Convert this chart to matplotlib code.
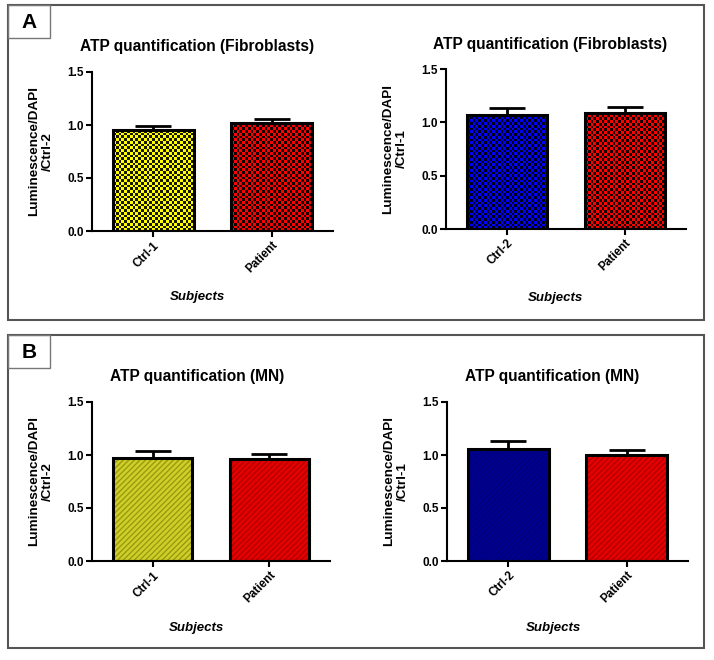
import numpy as np
import matplotlib
matplotlib.use("Agg")
import matplotlib.pyplot as plt
from matplotlib.patches import Rectangle

plt.rcParams['font.family'] = ['Liberation Sans', 'DejaVu Sans']

# data
fib_left_labels = ['Ctrl-1', 'Patient']
fib_left_means = [0.95, 1.02]
fib_left_err = [0.04, 0.04]

fib_right_labels = ['Ctrl-2', 'Patient']
fib_right_means = [1.07, 1.09]
fib_right_err = [0.06, 0.05]

mn_left_labels = ['Ctrl-1', 'Patient']
mn_left_means = [0.97, 0.96]
mn_left_err = [0.07, 0.045]

mn_right_labels = ['Ctrl-2', 'Patient']
mn_right_means = [1.06, 1.00]
mn_right_err = [0.075, 0.05]

W, H = 714, 660
fig = plt.figure(figsize=(W / 100, H / 100), dpi=100)


def px_axes(x0, x1, ytop, ybot):
    return fig.add_axes([x0 / W, 1 - ybot / H, (x1 - x0) / W, (ybot - ytop) / H])


def checker(ax, bar, color):
    # checkerboard fill clipped to the bar
    x0, y0 = bar.get_x(), bar.get_y()
    x1, y1 = x0 + bar.get_width(), y0 + bar.get_height()
    p0 = ax.transData.transform((x0, y0))
    p1 = ax.transData.transform((x1, y1))
    nx = max(1, int(abs(p1[0] - p0[0]) / 2.7))
    ny = max(1, int(abs(p1[1] - p0[1]) / 2.7))
    c = np.array(matplotlib.colors.to_rgb(color))
    dark = c * 0.1
    jj, ii = np.meshgrid(np.arange(nx), np.arange(ny))
    mask = ((ii + jj) % 2)[..., None]
    img = np.where(mask == 1, dark, c)
    im = ax.imshow(img, extent=(x0, x1, y0, y1), aspect='auto',
                   interpolation='nearest', zorder=1.5, origin='lower')
    im.set_clip_path(bar)


def panel(ax, labels, means, errs, colors, style, ylab):
    x = np.arange(len(labels))
    ax.set_xlim(-0.52, 1.52)
    ax.set_ylim(0, 1.5)
    if style == 'hatch':
        for xi, m, c in zip(x, means, colors):
            fc, hc = c
            ax.bar(xi, m, width=0.68, color=fc, edgecolor=hc, hatch='//////',
                   linewidth=0, zorder=1)
    else:
        bars = ax.bar(x, means, width=0.68, color=colors, edgecolor='black',
                      linewidth=2, zorder=1)
        for b, c in zip(bars, colors):
            checker(ax, b, c)
    ax.bar(x, means, width=0.68, facecolor='none', edgecolor='black',
           linewidth=2.2, zorder=2)
    ax.errorbar(x, means, yerr=[np.zeros(len(errs)), errs], fmt='none',
                ecolor='black', elinewidth=2, capsize=13, capthick=2, zorder=3)
    ax.set_xlim(-0.52, 1.52)
    ax.set_ylim(0, 1.5)
    ax.set_yticks([0.0, 0.5, 1.0, 1.5])
    ax.set_yticklabels(['0.0', '0.5', '1.0', '1.5'], fontsize=8.5, fontweight='bold')
    ax.set_xticks(x)
    ax.set_xticklabels(labels, rotation=45, ha='right', rotation_mode='anchor',
                       fontsize=8.5, fontweight='bold')
    for s in ['top', 'right']:
        ax.spines[s].set_visible(False)
    for s in ['left', 'bottom']:
        ax.spines[s].set_linewidth(1.5)
    ax.tick_params(width=1.5, length=4, pad=2)
    ax.set_facecolor('none')
    # y label as figure text so its place is fixed
    bb = ax.get_position()
    fig.text(bb.x0 - 51 / W, (bb.y0 + bb.y1) / 2, ylab, fontsize=9.7,
             fontweight='bold', rotation=90, ha='center', va='center',
             multialignment='center', linespacing=1.15)


# panel frames
for (yt, yb, letter) in [(5, 320, 'A'), (335, 648, 'B')]:
    fig.patches.append(Rectangle((8 / W, 1 - yb / H), (704 - 8) / W, (yb - yt) / H,
                                 transform=fig.transFigure, fill=False,
                                 edgecolor='#555555', linewidth=1.5))
    fig.patches.append(Rectangle((8 / W, 1 - (yt + 33) / H), 42 / W, 33 / H,
                                 transform=fig.transFigure, fill=False,
                                 edgecolor='#777777', linewidth=1.0))
    fig.text(29 / W, 1 - (yt + 18) / H, letter, fontsize=15, fontweight='bold',
             ha='center', va='center')

a1 = px_axes(92, 333, 72, 231)
panel(a1, fib_left_labels, fib_left_means, fib_left_err,
      ['#ffff00', '#ff0000'], 'check', 'Luminescence/DAPI\n/Ctrl-2')
a2 = px_axes(446, 686, 69, 229)
panel(a2, fib_right_labels, fib_right_means, fib_right_err,
      ['#0000ff', '#ff0000'], 'check', 'Luminescence/DAPI\n/Ctrl-1')
b1 = px_axes(92, 330, 402, 561)
panel(b1, mn_left_labels, mn_left_means, mn_left_err,
      [('#cfcf2a', '#9a9a10'), ('#e80000', '#b00000')], 'hatch',
      'Luminescence/DAPI\n/Ctrl-2')
b2 = px_axes(447, 688, 402, 561)
panel(b2, mn_right_labels, mn_right_means, mn_right_err,
      [('#000090', '#00007a'), ('#e80000', '#b00000')], 'hatch',
      'Luminescence/DAPI\n/Ctrl-1')

titles = [(197, 47, 'ATP quantification (Fibroblasts)'),
          (550, 45, 'ATP quantification (Fibroblasts)'),
          (197, 377, 'ATP quantification (MN)'),
          (552, 377, 'ATP quantification (MN)')]
for tx, ty, t in titles:
    fig.text(tx / W, 1 - ty / H, t, fontsize=11.2, fontweight='bold',
             ha='center', va='center')

xlabels = [(197, 297), (555, 298), (196, 628), (553, 628)]
for tx, ty in xlabels:
    fig.text(tx / W, 1 - ty / H, 'Subjects', fontsize=9.5, fontweight='bold',
             style='italic', ha='center', va='center')

fig.savefig('out.png', dpi=100)
